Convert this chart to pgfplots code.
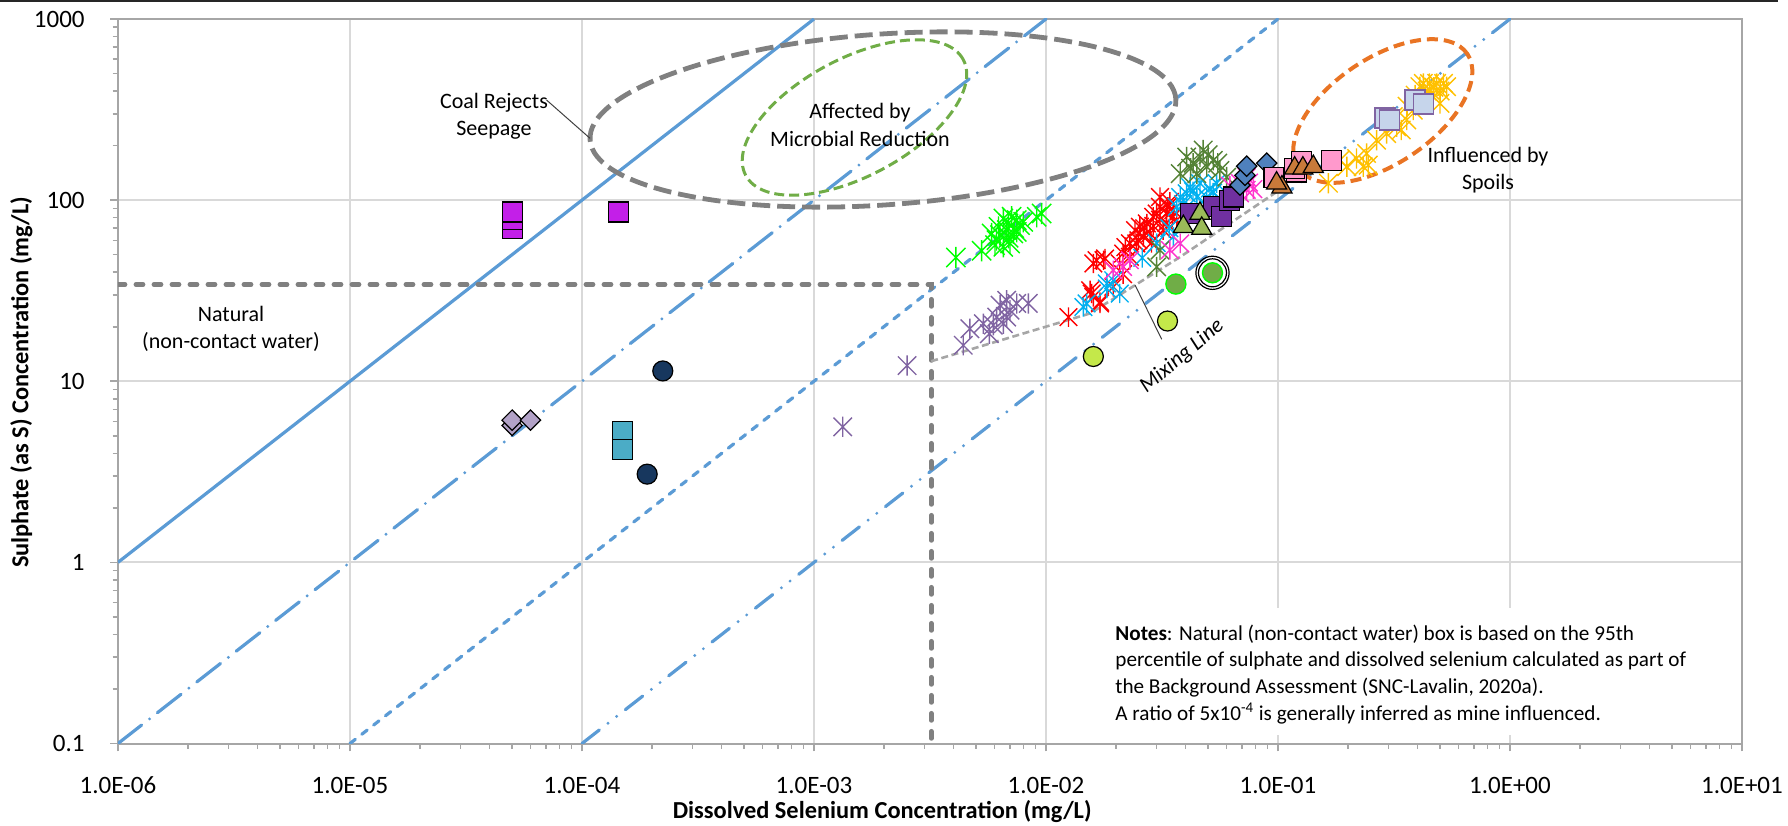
\documentclass[border=0pt]{standalone}
\usepackage{fontspec}
\setmainfont{Carlito}
\usepackage{pgfplots}
\pgfplotsset{compat=1.18}
\definecolor{refblue}{HTML}{5B9BD5}
\definecolor{boxgray}{HTML}{808080}
\definecolor{gridgray}{HTML}{D9D9D9}
\definecolor{axgray}{HTML}{A6A6A6}
\definecolor{mixgray}{HTML}{A6A6A6}
\definecolor{ellgreen}{HTML}{70AD47}
\definecolor{ellorange}{HTML}{E97424}
\definecolor{cMagenta}{HTML}{C31FE8}
\definecolor{cLavD}{HTML}{B2A2C7}
\definecolor{cTeal}{HTML}{4BACC6}
\definecolor{cNavy}{HTML}{17375E}
\definecolor{cPurpAst}{HTML}{8064A2}
\definecolor{cLime}{HTML}{00FF00}
\definecolor{cRed}{HTML}{FF0000}
\definecolor{cCyan}{HTML}{00B0F0}
\definecolor{cDkGreen}{HTML}{548235}
\definecolor{cPink}{HTML}{FF33CC}
\definecolor{cPurpSq}{HTML}{7030A0}
\definecolor{cOlive}{HTML}{9BBB59}
\definecolor{cSteel}{HTML}{4F81BD}
\definecolor{cPinkSq}{HTML}{FF99CC}
\definecolor{cBrown}{HTML}{C87A3A}
\definecolor{cGold}{HTML}{FFC000}
\definecolor{cLavSq}{HTML}{C6D5EB}
\definecolor{cYelGreen}{HTML}{C4E84A}
\definecolor{cGreenCirc}{HTML}{70AD47}
\pgfdeclareplotmark{xstar}{%
  \pgfpathmoveto{\pgfqpoint{-\pgfplotmarksize}{-\pgfplotmarksize}}%
  \pgfpathlineto{\pgfqpoint{\pgfplotmarksize}{\pgfplotmarksize}}%
  \pgfpathmoveto{\pgfqpoint{-\pgfplotmarksize}{\pgfplotmarksize}}%
  \pgfpathlineto{\pgfqpoint{\pgfplotmarksize}{-\pgfplotmarksize}}%
  \pgfpathmoveto{\pgfqpoint{0pt}{-1.1\pgfplotmarksize}}%
  \pgfpathlineto{\pgfqpoint{0pt}{1.1\pgfplotmarksize}}%
  \pgfusepathqstroke}
\begin{document}
\begin{tikzpicture}
\begin{axis}[
  at={(0pt,0pt)}, anchor=south west,
  scale only axis, width=812pt, height=362.25pt,
  xmode=log, ymode=log,
  xmin=1e-6, xmax=10, ymin=0.1, ymax=1000,
  xtick={1e-6,1e-5,1e-4,1e-3,1e-2,1e-1,1,10},
  xticklabels={1.0E-06,1.0E-05,1.0E-04,1.0E-03,1.0E-02,1.0E-01,1.0E+00,1.0E+01},
  ytick={0.1,1,10,100,1000},
  yticklabels={0.1,1,10,100,1000},
  minor xtick={2e-6,3e-6,4e-6,5e-6,6e-6,7e-6,8e-6,9e-6,
    2e-5,3e-5,4e-5,5e-5,6e-5,7e-5,8e-5,9e-5,
    2e-4,3e-4,4e-4,5e-4,6e-4,7e-4,8e-4,9e-4,
    2e-3,3e-3,4e-3,5e-3,6e-3,7e-3,8e-3,9e-3,
    2e-2,3e-2,4e-2,5e-2,6e-2,7e-2,8e-2,9e-2,
    0.2,0.3,0.4,0.5,0.6,0.7,0.8,0.9,
    2,3,4,5,6,7,8,9},
  minor ytick={0.2,0.3,0.4,0.5,0.6,0.7,0.8,0.9,
    2,3,4,5,6,7,8,9,20,30,40,50,60,70,80,90,
    200,300,400,500,600,700,800,900},
  grid=major,
  major grid style={draw=gridgray, line width=0.9pt},
  axis line style={draw=axgray, line width=1pt},
  tick style={draw=axgray, line width=0.8pt},
  tick align=outside, tick pos=left,
  major tick length=4pt, minor tick length=2.7pt,
  xticklabel style={font=\fontsize{12.5}{15}\selectfont, anchor=base, yshift=-21.1pt},
  yticklabel style={font=\fontsize{12.5}{15}\selectfont, anchor=east, inner sep=0pt, xshift=-12.5pt},
]
% reference ratio lines
\addplot[refblue, line width=1.6pt] coordinates {(1e-6,1) (1e-3,1000)};
\addplot[refblue, line width=1.6pt, line cap=round, dash pattern=on 15pt off 5pt on 0pt off 5pt] coordinates {(1e-6,0.1) (1e-2,1000)};
\addplot[refblue, line width=1.6pt, line cap=round, dash pattern=on 3.4pt off 4.1pt] coordinates {(1e-5,0.1) (1e-1,1000)};
\addplot[refblue, line width=1.6pt, line cap=round, dash pattern=on 11pt off 5.5pt on 0pt off 5.5pt on 0pt off 5.5pt] coordinates {(1e-4,0.1) (1,1000)};
% natural box
\addplot[boxgray, line width=2.4pt, line cap=round, dash pattern=on 3.5pt off 5.5pt] coordinates {(1e-6,34.2) (3.2e-3,34.2) (3.2e-3,0.1)};
% mixing line
\addplot[mixgray, line width=1.3pt, dash pattern=on 3.5pt off 1.8pt] coordinates {(3.2e-3,12.9) (0.0155,23.7) (0.0379,48.6) (0.0986,111) (0.107,120)};
% ellipses
\draw[boxgray, line width=2.4pt, dash pattern=on 9pt off 3.5pt, rotate around={4:(rel axis cs:0.47106,0.86128)}] (rel axis cs:0.47106,0.86128) ellipse [x radius=146.8pt, y radius=42.7pt];
\draw[ellgreen, line width=1.5pt, dash pattern=on 5pt off 2.5pt, rotate around={28:(rel axis cs:0.45351,0.86404)}] (rel axis cs:0.45351,0.86404) ellipse [x radius=61.6pt, y radius=29.4pt];
\draw[ellorange, line width=2pt, dash pattern=on 5.5pt off 3pt, rotate around={34:(rel axis cs:0.77882,0.87302)}] (rel axis cs:0.77882,0.87302) ellipse [x radius=51pt, y radius=26.3pt];
% data: asterisk series
\addplot[cPurpAst, only marks, mark=xstar, mark size=4.6pt, mark options={line width=0.7pt}] coordinates {
(1.33e-3,5.6) (2.52e-3,12.2) (4.40e-3,15.8) (4.70e-3,19.5) (5.37e-3,20.8) (5.93e-3,20.4) (6.13e-3,22.6) (6.34e-3,26.3) (6.77e-3,28.0) (7.0e-3,24.7) (7.48e-3,26.9) (8.39e-3,26.9) (6.55e-3,20.8) (6.77e-3,22.6) (5.7e-3,18.3)};
\addplot[cLime, only marks, mark=xstar, mark size=4.8pt, mark options={line width=0.7pt}] coordinates {
(4.09e-3,48.2) (5.28e-3,52.5) (5.83e-3,65.5) (6.03e-3,56.4) (6.12e-3,60.1) (6.24e-3,71.2) (6.33e-3,64.1) (6.55e-3,55.2) (6.55e-3,79.2) (6.77e-3,68.3) (6.88e-3,74.3) (7.0e-3,57.6) (7.11e-3,80.9) (7.23e-3,65.5) (7.48e-3,77.6) (7.48e-3,66.8) (7.73e-3,72.8) (7.98e-3,75.9) (9.12e-3,80.9) (9.58e-3,84.4) (6.9e-3,62) (7.3e-3,70)};
\addplot[cRed, only marks, mark=xstar, mark size=4.4pt, mark options={line width=0.7pt}] coordinates {
(0.0125,22.6) (0.0160,29.2) (0.0171,26.9) (0.0177,46.6) (0.0160,44.7) (0.0155,31.8)
(0.01574,30.5) (0.0171,27.4) (0.01653,46.6) (0.01797,47.6) (0.0195,33.2) (0.0215,50.7) (0.0230,57.7) (0.0242,68.3) (0.0263,62.7) (0.0272,74.3) (0.0290,80.9) (0.0310,91.8) (0.0310,104) (0.0331,84.4) (0.0354,88.1) (0.0366,77.6) (0.0320,68.3) (0.0281,65.5) (0.0245,57.7) (0.0208,44.7) (0.0230,48.6) (0.0254,71.3) (0.0300,84.4) (0.0342,97.9) (0.0215,39) (0.0285,58) (0.0330,75) (0.0265,70) (0.0350,80) (0.0220,55) (0.0250,60) (0.0290,72) (0.0335,92) (0.0310,78)};
\addplot[cCyan, only marks, mark=xstar, mark size=4.4pt, mark options={line width=0.7pt}] coordinates {
(0.0379,104) (0.0418,118) (0.0461,124) (0.0509,116) (0.0544,124) (0.0447,104) (0.0493,104) (0.0404,109) (0.0366,91.8) (0.0195,36.1) (0.0183,32.5) (0.0208,30.5) (0.0145,25.7) (0.0354,62.7) (0.01497,26.9) (0.0183,34.7) (0.043,112) (0.0525,110) (0.039,95) (0.026,48) (0.0340,70) (0.030,58)};
\addplot[cDkGreen, only marks, mark=xstar, mark size=4.6pt, mark options={line width=0.7pt}] coordinates {
(0.0404,173) (0.0431,160) (0.0461,173) (0.0493,153) (0.0526,166) (0.0562,146) (0.0379,140) (0.0447,140) (0.0601,134) (0.0476,189) (0.0300,42.8) (0.0310,53) (0.050,178) (0.055,160) (0.042,150)};
\addplot[cPink, only marks, mark=xstar, mark size=4.4pt, mark options={line width=0.7pt}] coordinates {
(0.0686,124) (0.0733,114) (0.0783,115) (0.0686,109) (0.0733,134) (0.0342,53) (0.0379,57.7) (0.0230,46.6) (0.0215,42.8) (0.0195,41.0) (0.062,120) (0.075,125)};
\addplot[cGold, only marks, mark=xstar, mark size=4.6pt, mark options={line width=0.7pt}] coordinates {
(0.165,124) (0.198,153) (0.218,170) (0.241,181) (0.245,156) (0.266,214) (0.294,233) (0.325,254) (0.359,277) (0.383,314) (0.423,357) (0.452,405) (0.483,441) (0.517,441) (0.423,441) (0.409,423) (0.533,423) (0.467,372) (0.499,342) (0.34,244) (0.314,289) (0.233,153) (0.185,166) (0.44,400) (0.47,420) (0.5,400) (0.39,380) (0.36,330) (0.45,440)};
% data: filled markers
\addplot[only marks, mark=square*, mark size=5pt, mark options={fill=cMagenta, draw=black, line width=0.6pt}] coordinates {(5.0e-5,70) (5.0e-5,78) (5.0e-5,86) (1.44e-4,86)};
\addplot[only marks, mark=square*, mark size=3.6pt, mark options={fill=cLavD, draw=black, line width=0.6pt, rotate=45}] coordinates {(5.0e-5,5.7) (5.0e-5,6.1) (6.0e-5,6.1)};
\addplot[only marks, mark=square*, mark size=5pt, mark options={fill=cTeal, draw=black, line width=0.6pt}] coordinates {(1.49e-4,5.3) (1.49e-4,4.2)};
\addplot[only marks, mark=*, mark size=5pt, mark options={fill=cNavy, draw=black, line width=0.6pt}] coordinates {(2.23e-4,11.4) (1.91e-4,3.07)};
\addplot[only marks, mark=square*, mark size=5pt, mark options={fill=cPurpSq, draw=black, line width=0.6pt}] coordinates {(0.0418,84.4) (0.0526,91.8) (0.0571,80.9) (0.062,100) (0.0642,104)};
\addplot[only marks, mark=triangle*, mark size=5.8pt, mark options={fill=cOlive, draw=black, line width=0.6pt}] coordinates {(0.0391,71.3) (0.0461,84.4) (0.0469,69.7)};
\addplot[only marks, mark=square*, mark size=3.6pt, mark options={fill=cSteel, draw=black, line width=0.6pt, rotate=45}] coordinates {(0.0686,121) (0.0721,137) (0.0733,154) (0.0894,160)};
\addplot[only marks, mark=square*, mark size=5pt, mark options={fill=cPinkSq, draw=black, line width=0.6pt}] coordinates {(0.0962,133) (0.1205,143) (0.118,150) (0.1265,163) (0.170,166)};
\addplot[only marks, mark=triangle*, mark size=5.8pt, mark options={fill=cBrown, draw=black, line width=0.6pt}] coordinates {(0.104,118) (0.0986,124) (0.118,150) (0.128,150) (0.142,153)};
\addplot[only marks, mark=square*, mark size=5pt, mark options={fill=cLavSq, draw=cPurpAst, line width=0.8pt}] coordinates {(0.289,285) (0.302,277) (0.390,357) (0.423,339)};
\addplot[only marks, mark=*, mark size=5pt, mark options={fill=cYelGreen, draw=black, line width=0.6pt}] coordinates {(0.0160,13.7) (0.0334,21.5)};
\addplot[only marks, mark=*, mark size=5pt, mark options={fill=cGreenCirc, draw=cLime, line width=0.7pt}] coordinates {(0.0363,34.4) (0.0522,39.7)};
\addplot[only marks, mark=o, mark size=8.3pt, mark options={draw=black, line width=0.6pt}] coordinates {(0.0522,39.7)};
\addplot[only marks, mark=o, mark size=7pt, mark options={draw=black, line width=0.6pt}] coordinates {(0.0522,39.7)};
\end{axis}
% annotations (origin = lower-left corner of plot area, 1 px = 0.5 pt)
\fill[white] (493.5pt,4.25pt) rectangle (806pt,67.75pt);
\begin{scope}[font=\fontsize{10.6}{13.3}\selectfont]
\node[anchor=base west, inner sep=0pt] at (498.5pt,51.75pt) {\textbf{Notes}: Natural (non-contact water) box is based on the 95th};
\node[anchor=base west, inner sep=0pt] at (498.5pt,38.4pt) {percentile of sulphate and dissolved selenium calculated as part of};
\node[anchor=base west, inner sep=0pt] at (498.5pt,25.1pt) {the Background Assessment (SNC-Lavalin, 2020a).};
\node[anchor=base west, inner sep=0pt] at (498.5pt,11.75pt) {A ratio of 5x10\textsuperscript{-4} is generally inferred as mine influenced.};
\end{scope}
\begin{scope}[font=\fontsize{11}{13.75}\selectfont]
\node[align=center, inner sep=0pt] at (188pt,313.5pt) {Coal Rejects\\Seepage};
\node[align=center, inner sep=0pt] at (371pt,309.25pt) {Affected by\\Microbial Reduction};
\node[align=center, inner sep=0pt] at (56.5pt,207.25pt) {Natural\\(non-contact water)};
\node[align=center, inner sep=0pt] at (685pt,286.75pt) {Influenced by\\Spoils};
\node[inner sep=0pt, rotate=40] at (532pt,193.6pt) {\itshape Mixing Line};
\end{scope}
\draw[black!75, line width=0.5pt] (214.25pt,321.75pt) -- (236pt,302.6pt);
\draw[black!75, line width=0.5pt] (508.5pt,229.25pt) -- (521.85pt,202.1pt);
% axis titles
\node[anchor=base, inner sep=0pt, font=\fontsize{12.2}{14}\selectfont\bfseries] at (382.1pt,-37.4pt) {Dissolved Selenium Concentration (mg/L)};
\node[anchor=base, rotate=90, inner sep=0pt, font=\fontsize{12.2}{14}\selectfont\bfseries] at (-44.75pt,180.55pt) {Sulphate (as S) Concentration (mg/L)};
% top border line
\draw[black!85, line width=0.8pt] (-59pt,371.35pt) -- (830pt,371.35pt);
\pgfresetboundingbox
\useasboundingbox (-59pt,-40.75pt) rectangle (835pt,371.75pt);
\end{tikzpicture}
\end{document}
